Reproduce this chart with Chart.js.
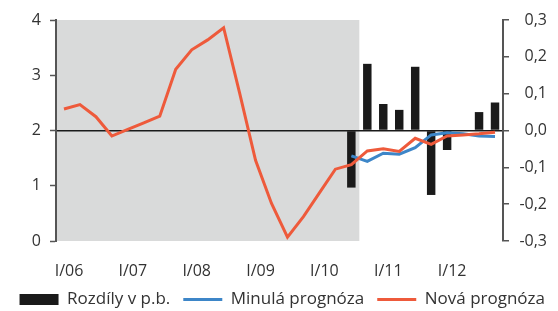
<!DOCTYPE html>
<html>
<head>
<meta charset="utf-8">
<title>Rozdíly prognóz</title>
<script src="https://cdn.jsdelivr.net/npm/chart.js@4/dist/chart.umd.min.js"></script>
<style>
    html, body { margin: 0; padding: 0; background: #fff; }
</style>
</head>
<body>
<canvas id="chart" width="558" height="311"></canvas>
<script>
// Quarterly categories I/06 .. IV/12
const quarters = [
    'I/06', 'II/06', 'III/06', 'IV/06',
    'I/07', 'II/07', 'III/07', 'IV/07',
    'I/08', 'II/08', 'III/08', 'IV/08',
    'I/09', 'II/09', 'III/09', 'IV/09',
    'I/10', 'II/10', 'III/10', 'IV/10',
    'I/11', 'II/11', 'III/11', 'IV/11',
    'I/12', 'II/12', 'III/12', 'IV/12'
];

// Differences new vs. previous forecast (right axis, p.b.)
const rozdily = [
    null, null, null, null, null, null, null, null, null,
    null, null, null, null, null, null, null, null, null,
    -0.155, 0.181, 0.072, 0.056, 0.173, -0.175, -0.053, 0.0, 0.050, 0.076
];

// Previous forecast (left axis)
const minulaPrognoza = [
    null, null, null, null, null, null, null, null, null,
    null, null, null, null, null, null, null, null, null,
    1.54, 1.44, 1.59, 1.57, 1.69, 1.92, 1.96, 1.94, 1.90, 1.89
];

// New forecast incl. history (left axis)
const novaPrognoza = [
    2.39, 2.47, 2.25, 1.90, 2.02, 2.14, 2.26, 3.11, 3.46,
    3.64, 3.86, 2.68, 1.46, 0.68, 0.07, 0.44, 0.87, 1.30,
    1.38, 1.63, 1.67, 1.62, 1.86, 1.75, 1.90, 1.92, 1.94, 1.97
];

const leftTicks = [0, 1, 2, 3, 4];
const rightTicks = [-0.3, -0.2, -0.1, 0.0, 0.1, 0.2, 0.3];

// last quarter of history (shaded area)
const historyEnd = 18;

Chart.defaults.font.family = '"Open Sans", "Noto Sans", sans-serif';
Chart.defaults.font.size = 16;
Chart.defaults.color = '#333';

// Grey background behind the history part
const shadePlugin = {
    id: 'shade',
    afterLayout(chart) {
        // right axis labels are right-aligned a bit inside the canvas edge
        const y2 = chart.scales.y2;
        y2.right = y2.left + 44;
    },
    beforeDraw(chart) {
        const { ctx, chartArea, scales } = chart;
        const x = scales.x;
        const edge = (x.getPixelForValue(historyEnd) + x.getPixelForValue(historyEnd + 1)) / 2;
        ctx.save();
        ctx.fillStyle = '#d9dada';
        ctx.fillRect(chartArea.left, chartArea.top, edge - chartArea.left, chartArea.bottom - chartArea.top);
        ctx.restore();
    }
};

const fmtComma = v => v.toFixed(1).replace('.', ',');

new Chart(document.getElementById('chart'), {
    type: 'bar',
    data: {
        labels: quarters,
        datasets: [
            {
                type: 'bar',
                label: 'Rozdíly v p.b.',
                data: rozdily,
                backgroundColor: '#1a1a1a',
                borderWidth: 0,
                barPercentage: 0.53,
                categoryPercentage: 1.0,
                yAxisID: 'y2',
                order: 2
            },
            {
                type: 'line',
                label: 'Minulá prognóza',
                data: minulaPrognoza,
                borderColor: '#3d86c8',
                backgroundColor: '#3d86c8',
                borderWidth: 3,
                pointRadius: 0,
                tension: 0,
                yAxisID: 'y',
                order: 1
            },
            {
                type: 'line',
                label: 'Nová prognóza',
                data: novaPrognoza,
                borderColor: '#ee5a3b',
                backgroundColor: '#ee5a3b',
                borderWidth: 3,
                pointRadius: 0,
                tension: 0,
                yAxisID: 'y',
                order: 0
            }
        ]
    },
    options: {
        responsive: false,
        animation: false,
        layout: {
            padding: { top: 20, left: 0, right: 0, bottom: 0 }
        },
        plugins: {
            tooltip: { enabled: false },
            legend: {
                position: 'bottom',
                align: 'end',
                maxHeight: 33,
                labels: {
                    usePointStyle: true,
                    pointStyleWidth: 39,
                    boxHeight: 11,
                    padding: 13,
                    color: '#333',
                    font: { size: 17 },
                    sort: (a, b) => a.datasetIndex - b.datasetIndex,
                    generateLabels(chart) {
                        const items = Chart.defaults.plugins.legend.labels.generateLabels(chart);
                        items.forEach(item => {
                            const ds = chart.data.datasets[item.datasetIndex];
                            const isLine = ds.type === 'line';
                            item.pointStyle = isLine ? 'line' : 'rect';
                            item.fillStyle = ds.backgroundColor;
                            item.strokeStyle = isLine ? ds.borderColor : ds.backgroundColor;
                            item.lineWidth = isLine ? 3 : 0;
                        });
                        return items;
                    }
                }
            }
        },
        scales: {
            x: {
                offset: true,
                grid: { display: false, drawTicks: false },
                border: { display: false },
                ticks: {
                    autoSkip: false,
                    maxRotation: 0,
                    padding: 22,
                    labelOffset: 5,
                    font: { size: 16, lineHeight: 1 },
                    callback: function (value, index) {
                        const label = quarters[index];
                        return label.startsWith('I/') ? label : '';
                    }
                },
                afterFit(scale) { scale.height = 37; }
            },
            y: {
                position: 'left',
                min: leftTicks[0],
                max: leftTicks[leftTicks.length - 1],
                afterBuildTicks(scale) { scale.ticks = leftTicks.map(v => ({ value: v })); },
                grid: { drawOnChartArea: false, tickLength: 6, tickColor: '#555', tickWidth: 1.5 },
                border: { color: '#555', width: 2 },
                ticks: { padding: 9 },
                afterFit(scale) { scale.width = 56; }
            },
            y2: {
                position: 'right',
                min: rightTicks[0],
                max: rightTicks[rightTicks.length - 1],
                afterBuildTicks(scale) { scale.ticks = rightTicks.map(v => ({ value: v })); },
                grid: {
                    drawOnChartArea: true,
                    color: ctx => (ctx.tick && Math.abs(ctx.tick.value) < 1e-9) ? '#1a1a1a' : 'rgba(0,0,0,0)',
                    lineWidth: 1.5,
                    tickLength: 6,
                    tickColor: '#555',
                    tickWidth: 1.5
                },
                border: { color: '#555', width: 2 },
                ticks: {
                    padding: 10,
                    crossAlign: 'far',
                    callback: v => fmtComma(v)
                },
                afterFit(scale) { scale.width = 55; }
            }
        }
    },
    plugins: [shadePlugin]
});
</script>
</body>
</html>
